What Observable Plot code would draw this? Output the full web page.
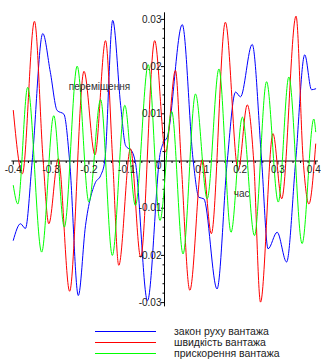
<!DOCTYPE html>
<html><head><meta charset="utf-8">
<script src="https://cdn.jsdelivr.net/npm/d3@7"></script>
<script src="https://cdn.jsdelivr.net/npm/@observablehq/plot@0.6"></script>
<style>
body{margin:0;background:#fff;font-family:"Liberation Sans",Arial,sans-serif;}
#wrap{position:relative;width:321px;height:360px;overflow:hidden;}
#legend{position:absolute;left:0;top:326px;width:321px;}
.row{position:absolute;left:0;height:11px;width:321px;}
.row .ln{position:absolute;left:95px;top:5px;width:61px;height:1px;}
.row .tx{position:absolute;left:174px;top:-1px;font-size:10.5px;color:#222;white-space:nowrap;line-height:12px;}
</style></head>
<body><div id="wrap"></div>
<script>
// series names and colours
const seriesNames = ["закон руху вантажа", "швидкість вантажа", "прискорення вантажа"];
const seriesColors = ["#0000ff", "#ff0000", "#00ff00"];

// blue: закон руху (key points)
const blueX = [-0.400,-0.381,-0.368,-0.350,-0.322,-0.302,-0.284,-0.266,-0.251,-0.228,-0.209,-0.183,-0.169,-0.158,-0.137,-0.116,-0.103,-0.085,-0.077,-0.045,-0.011,-0.002,0.007,0.047,0.076,0.091,0.104,0.139,0.166,0.188,0.201,0.232,0.257,0.274,0.298,0.323,0.347,0.371,0.389,0.400];
const blueY = [-0.0168,-0.0133,-0.0143,0.0000,0.0270,0.0188,0.0107,0.0099,0.0000,-0.0285,-0.0137,-0.0046,-0.0031,0.0000,0.0298,0.0118,0.0033,0.0019,-0.0003,-0.0296,0.0018,0.0040,0.0050,0.0289,0.0000,-0.0077,-0.0080,-0.0271,0.0000,0.0146,0.0136,0.0247,0.0000,-0.0186,-0.0151,-0.0214,0.0000,0.0225,0.0151,0.0153];

// red: швидкість
const redX = [-0.400,-0.376,-0.344,-0.321,-0.306,-0.281,-0.251,-0.213,-0.184,-0.156,-0.137,-0.121,-0.090,-0.063,-0.026,0.003,0.029,0.044,0.067,0.100,0.124,0.161,0.195,0.219,0.236,0.254,0.287,0.310,0.348,0.367,0.382,0.400];
const redY = [0.0107,-0.0027,0.0296,0.0000,-0.0133,0.0005,-0.0276,0.0190,0.0013,0.0255,0.0000,-0.0221,0.0026,-0.0204,0.0255,0.0019,0.0192,0.0000,-0.0274,0.0003,-0.0154,0.0294,-0.0020,0.0119,0.0000,-0.0299,0.0058,-0.0080,0.0307,0.0000,-0.0091,0.0036];

// green: прискорення
const greenX = [-0.400,-0.388,-0.362,-0.325,-0.293,-0.265,-0.231,-0.200,-0.169,-0.138,-0.105,-0.077,-0.043,-0.012,0.019,0.049,0.082,0.113,0.144,0.176,0.206,0.238,0.270,0.301,0.329,0.364,0.395,0.400];
const greenY = [-0.0052,-0.0091,0.0156,-0.0193,0.0096,-0.0140,0.0201,-0.0087,0.0130,-0.0200,0.0118,-0.0094,0.0204,-0.0126,0.0105,-0.0197,0.0142,-0.0080,0.0195,-0.0151,0.0093,-0.0158,0.0168,-0.0087,0.0178,-0.0175,0.0089,0.0062];

// ticks
const xTickLabels = [-0.4,-0.3,-0.2,-0.1,0.1,0.2,0.3];
const xLastTickLabel = [0.4];
const yTickLabels = [-0.03,-0.02,-0.01,0.01,0.02,0.03];
const xMinor = d3.range(-20,21).map(i=>i*0.02);
const yMinor = d3.range(-15,16).map(i=>i*0.002);
const yAxisTitle = "переміщення";
const xAxisTitle = "час";

const toRows = (xs, ys, k) => xs.map((x,i)=>({x, y: ys[i], s: k}));
const all = [toRows(blueX, blueY, 0), toRows(redX, redY, 1), toRows(greenX, greenY, 2)];

const pxX = 0.1/37.8, pxY = 0.01/47.2; // one pixel in data units for tick lengths
const fmt = d => d.toString();

const chart = Plot.plot({
  width: 321, height: 312,
  marginLeft: 12.8, marginRight: 5.8, marginTop: 18.9, marginBottom: 9.9,
  x: {domain: [-0.4, 0.4], axis: null},
  y: {domain: [-0.03, 0.03], axis: null},
  style: {fontFamily: '"Liberation Sans", Arial, sans-serif', fontSize: "10px", background: "#fff", overflow: "visible"},
  marks: [
    Plot.link([0], {x1: -0.405, x2: 0.406, y1: 0, y2: 0, stroke: "#000", strokeWidth: 1}),
    Plot.link([0], {x1: 0, x2: 0, y1: -0.0308, y2: 0.0315, stroke: "#000", strokeWidth: 1}),
    Plot.link(xMinor, {x1: d=>d, x2: d=>d, y1: 0, y2: d => -pxY*(Math.abs(Math.round(d*10)-d*10)<1e-6 ? 3.5 : 2), stroke: "#000", strokeWidth: 1}),
    Plot.link(yMinor, {y1: d=>d, y2: d=>d, x1: 0, x2: d => -pxX*(Math.abs(Math.round(d*100)-d*100)<1e-6 ? 3.5 : 2), stroke: "#000", strokeWidth: 1}),
    ...all.map((rows,k) => Plot.line(rows, {x: "x", y: "y", stroke: seriesColors[k], strokeWidth: 1, curve: "monotone-x"})),
    Plot.text(xTickLabels, {x: d=>d, y: 0, text: fmt, dy: 9, fill: "#222", textAnchor: "middle"}),
    Plot.text(xLastTickLabel, {x: d=>d, y: 0, text: fmt, dy: 9, dx: 5, fill: "#222", textAnchor: "end"}),
    Plot.text(yTickLabels, {x: 0, y: d=>d, text: fmt, dx: -3, fill: "#222", textAnchor: "end"}),
    Plot.text([0], {x: 0, y: 0, text: fmt, dx: -3, dy: 5, fill: "#222", textAnchor: "end"}),
    Plot.text([yAxisTitle], {x: -0.172, y: 0.0158, text: d=>d, fill: "#333", fontSize: 10}),
    Plot.text([xAxisTitle], {x: 0.204, y: -0.0069, text: d=>d, fill: "#333", fontSize: 10})
  ]
});
const wrap = document.getElementById("wrap");
wrap.appendChild(chart);
const leg = document.createElement("div");
leg.id = "legend";
seriesNames.forEach((n,i)=>{
  const r = document.createElement("div");
  r.className = "row";
  r.style.top = (i*11) + "px";
  r.innerHTML = `<div class="ln" style="background:${seriesColors[i]}"></div><div class="tx">${n}</div>`;
  leg.appendChild(r);
});
wrap.appendChild(leg);
</script></body></html>
